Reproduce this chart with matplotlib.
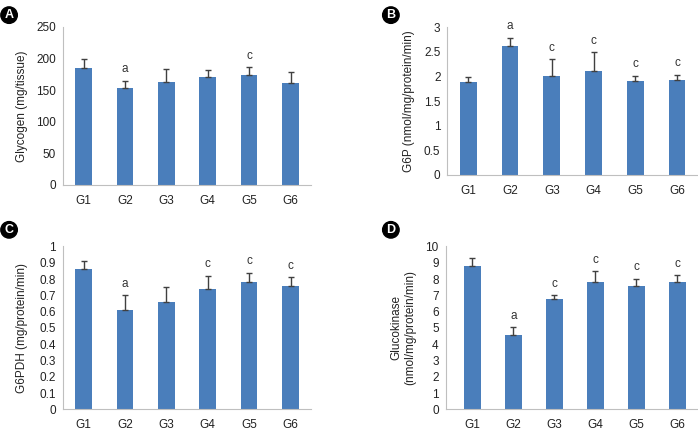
import matplotlib
matplotlib.use('Agg')
import matplotlib.pyplot as plt
import numpy as np

plt.rcParams['font.family'] = ['Liberation Sans', 'DejaVu Sans']

groups = ['G1', 'G2', 'G3', 'G4', 'G5', 'G6']

# panel A - glycogen
glyc = [185, 153, 162, 170, 174, 161]
glyc_err = [14, 12, 21, 11, 12, 18]
glyc_sig = ['', 'a', '', '', 'c', '']

# panel B - G6P
g6p = [1.89, 2.61, 2.01, 2.11, 1.91, 1.93]
g6p_err = [0.10, 0.17, 0.34, 0.38, 0.10, 0.10]
g6p_sig = ['', 'a', 'c', 'c', 'c', 'c']

# panel C - G6PDH
g6pdh = [0.86, 0.61, 0.66, 0.74, 0.78, 0.76]
g6pdh_err = [0.05, 0.09, 0.09, 0.08, 0.06, 0.05]
g6pdh_sig = ['', 'a', '', 'c', 'c', 'c']

# panel D - glucokinase
gk = [8.77, 4.57, 6.76, 7.81, 7.56, 7.83]
gk_err = [0.53, 0.47, 0.25, 0.67, 0.45, 0.41]
gk_sig = ['', 'a', 'c', 'c', 'c', 'c']

bar_col = '#4a7ebb'
spine_col = '#bfbfbf'
txt_col = '#222222'
fs = 8.5

fig = plt.figure(figsize=(6.98, 4.32), dpi=100)

panels = [
    # rect, values, errs, letters, ylim, ystep, ylabel, label x, tag, tagpos, xleft
    ([0.090, 0.572, 0.356, 0.366], glyc, glyc_err, glyc_sig, 250, 50,
     'Glycogen (mg/tissue)', -0.141, 'A', (0.013, 0.965), -0.5),
    ([0.641, 0.595, 0.359, 0.342], g6p, g6p_err, g6p_sig, 3, 0.5,
     'G6P (nmol/mg/protein/min)', -0.131, 'B', (0.560, 0.965), -0.5),
    ([0.090, 0.0525, 0.356, 0.377], g6pdh, g6pdh_err, g6pdh_sig, 1, 0.1,
     'G6PDH (mg/protein/min)', -0.14, 'C', (0.013, 0.468), -0.5),
    ([0.6385, 0.0525, 0.3615, 0.377], gk, gk_err, gk_sig, 10, 1,
     'Glucokinase\n(nmol/mg/protein/min)', -0.118, 'D', (0.560, 0.468), -0.65),
]

x = np.arange(len(groups))
for rect, vals, errs, sig, ymax, ystep, ylab, lx, tag, tpos, xl in panels:
    ax = fig.add_axes(rect)
    ax.bar(x, vals, width=0.4, color=bar_col, zorder=2)
    ax.errorbar(x, vals, yerr=[np.zeros(len(vals)), errs], fmt='none',
                ecolor='#404040', elinewidth=1, capsize=2.5, capthick=1, zorder=3)
    for xi, v, e, s in zip(x, vals, errs, sig):
        if s:
            ax.annotate(s, (xi, v + e), xytext=(0, 4), textcoords='offset points',
                        ha='center', va='bottom', fontsize=fs, color='#333333')
    ax.set_xlim(xl, 5.5)
    ax.set_ylim(0, ymax)
    ticks = np.arange(0, ymax + ystep / 2, ystep)
    ax.set_yticks(ticks)
    ax.set_yticklabels(['%g' % t for t in ticks])
    ax.set_xticks(x)
    ax.set_xticklabels(groups)
    ax.tick_params(axis='both', length=0, labelsize=fs, colors=txt_col)
    ax.tick_params(axis='x', pad=7)
    ax.tick_params(axis='y', pad=5)
    ax.spines['top'].set_visible(False)
    ax.spines['right'].set_visible(False)
    ax.spines['left'].set_color(spine_col)
    ax.spines['bottom'].set_color(spine_col)
    ax.set_ylabel(ylab, fontsize=fs, color=txt_col)
    ax.yaxis.set_label_coords(lx, 0.5)
    fig.text(tpos[0], tpos[1], tag, ha='center', va='center', color='white',
             fontsize=9, fontweight='bold',
             bbox=dict(boxstyle='circle,pad=0.18', fc='black', ec='black'))

fig.savefig('out.png', dpi=100)
